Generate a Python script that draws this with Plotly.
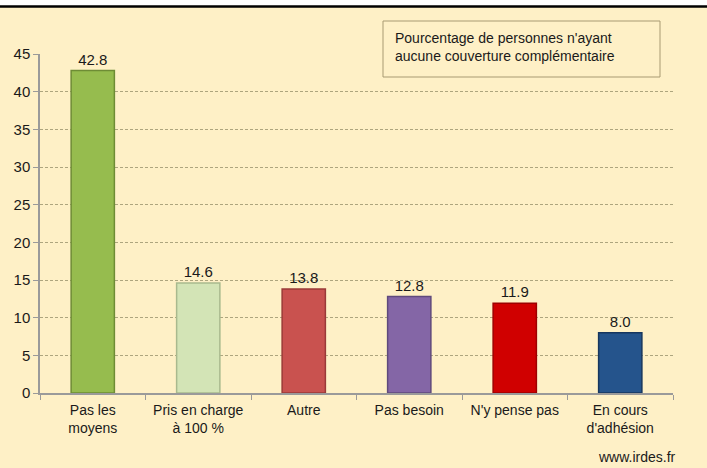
import plotly.graph_objects as go

categories = ["Pas les<br>moyens", "Pris en charge<br>à 100 %", "Autre", "Pas besoin",
              "N'y pense pas", "En cours<br>d'adhésion"]
values = [42.8, 14.6, 13.8, 12.8, 11.9, 8.0]
bar_colors = ["#96BC4E", "#D3E4B6", "#C9524F", "#8466A6", "#D00000", "#25548C"]
edge_colors = ["#6E8C35", "#A9B98E", "#9A3A38", "#5F4A7C", "#9E0000", "#17365E"]
y_ticks = [0, 5, 10, 15, 20, 25, 30, 35, 40, 45]
box_text = "Pourcentage de personnes n'ayant<br>aucune couverture complémentaire"

BG = "#FEF0C6"
FONT = "Liberation Sans, Arial, sans-serif"
TXT = "#1a1a1a"

# plot area in pixels: x 40..673, y 54..393
def px(x):
    return (x - 40) / 633

def py(y):
    return (393 - y) / 339

fig = go.Figure()
fig.add_trace(go.Bar(
    x=categories,
    y=values,
    width=0.41,
    marker=dict(color=bar_colors, line=dict(color=edge_colors, width=1.5)),
    text=[f"{v:.1f}" for v in values],
    textposition="outside",
    textfont=dict(family=FONT, size=15, color=TXT),
    cliponaxis=False,
))

annotations = [
    dict(xref="paper", yref="paper", x=px(393), y=py(28),
         xanchor="left", yanchor="top", align="left", text=box_text, showarrow=False,
         font=dict(family=FONT, size=14, color=TXT)),
    dict(xref="paper", yref="paper", x=px(678), y=py(467),
         xanchor="right", yanchor="bottom", text="www.irdes.fr", showarrow=False,
         font=dict(family=FONT, size=14, color=TXT)),
]

fig.update_layout(
    width=707, height=468,
    margin=dict(l=40, r=34, t=54, b=75),
    paper_bgcolor=BG,
    plot_bgcolor=BG,
    showlegend=False,
    font=dict(family=FONT, size=14, color=TXT),
    xaxis=dict(
        showline=True, linecolor="#9a9a9a", linewidth=1.5,
        ticks="outside", tickson="boundaries", ticklen=5, tickcolor="#9a9a9a",
        showgrid=False, ticklabelstandoff=3, tickangle=0, automargin=False,
        tickfont=dict(family=FONT, size=14, color=TXT),
    ),
    yaxis=dict(
        range=[0, 45], tickvals=y_ticks, automargin=False,
        showline=True, linecolor="#9a9a9a", linewidth=1.5,
        ticks="outside", ticklen=5, tickcolor="#9a9a9a",
        showgrid=True, gridcolor="#ADA57E", griddash="3px,2px", gridwidth=1,
        zeroline=False,
        tickfont=dict(family=FONT, size=15, color=TXT),
    ),
    shapes=[
        dict(type="rect", xref="paper", yref="paper", x0=-0.1, x1=1.1,
             y0=py(6), y1=1.3, fillcolor="white", line=dict(width=0), layer="above"),
        dict(type="line", xref="paper", yref="paper", x0=-0.1, x1=1.1,
             y0=py(6.5), y1=py(6.5), line=dict(color="black", width=2.5), layer="above"),
        dict(type="rect", xref="paper", yref="paper", x0=px(383), x1=px(660),
             y0=py(77), y1=py(21), fillcolor=BG,
             line=dict(color="#A89A72", width=1), layer="above"),
    ],
    annotations=annotations,
)

fig.write_html("out.html")
